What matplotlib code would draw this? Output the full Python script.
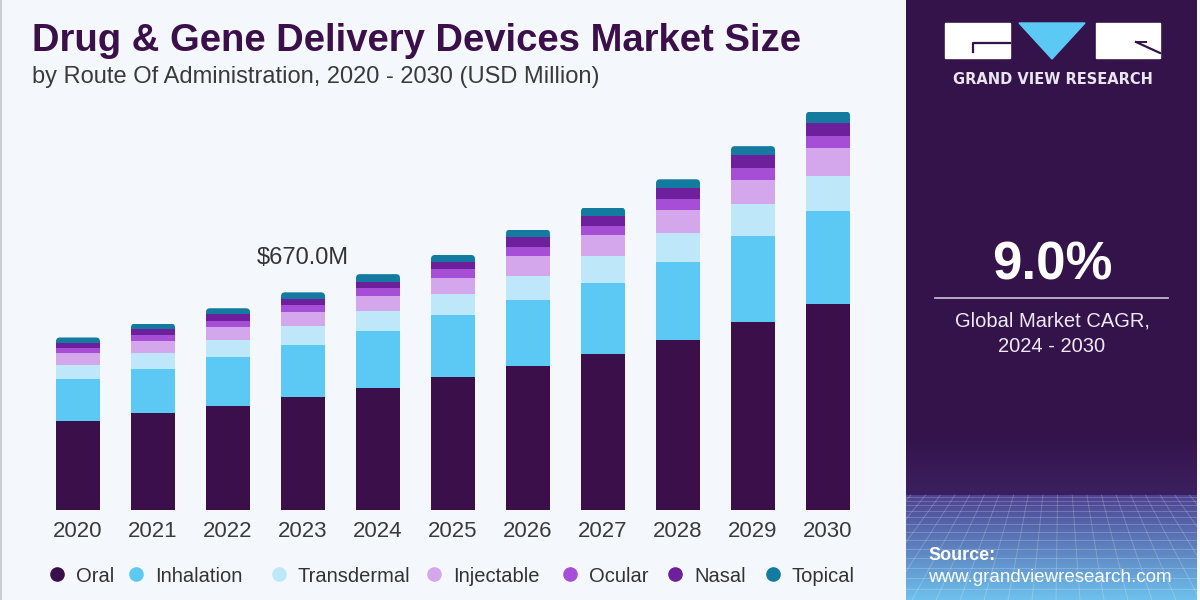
import numpy as np
import matplotlib
matplotlib.use("Agg")
import matplotlib.pyplot as plt
from matplotlib.patches import Rectangle, Polygon, FancyBboxPatch
from matplotlib.lines import Line2D
import matplotlib.colors as mcolors

plt.rcParams['font.family'] = ['Liberation Sans', 'DejaVu Sans']

# ---------------- data (USD Million) ----------------
years = ["2020", "2021", "2022", "2023", "2024", "2025", "2026", "2027", "2028", "2029", "2030"]
oral        = [275, 298, 321, 348, 377, 410, 443, 479, 523, 578, 633]
inhalation  = [128, 137, 149, 160, 175, 190, 203, 220, 240, 264, 288]
transdermal = [43, 49, 53, 58, 59, 65, 75, 82, 90, 100, 107]
injectable  = [36, 37, 41, 44, 49, 50, 61, 65, 70, 75, 85]
ocular      = [18, 18, 19, 21, 23, 27, 29, 28, 34, 36, 39]
nasal       = [14, 18, 20, 18, 18, 22, 28, 32, 33, 39, 40]
topical     = [17, 17, 18, 21, 25, 21, 24, 25, 28, 28, 34]
series_names = ["Oral", "Inhalation", "Transdermal", "Injectable", "Ocular", "Nasal", "Topical"]
series = [oral, inhalation, transdermal, injectable, ocular, nasal, topical]
label_year = "2023"
label_value = 670.0
cagr_text = "9.0%"
cagr_caption = ["Global Market CAGR,", "2024 - 2030"]

colors = ["#3A0F4A", "#5CC9F5", "#BEE8FA", "#D4A7EC", "#A64FD6", "#6E1F9B", "#137AA0"]

W, H = 1200, 600
def fx(px):
    return px / W
def fy(py):
    return 1 - py / H

fig = plt.figure(figsize=(12, 6), dpi=100, facecolor="#F4F8FC")

# ---------------- main chart ----------------
ax = fig.add_axes([40.5 / W, 1 - 510 / H, 825 / W, 410 / H])
ax.set_facecolor("none")
x = np.arange(len(years))
bw = 0.587
bottom = np.zeros(len(years))
containers = []
for vals, col in zip(series, colors):
    bc = ax.bar(x, vals, width=bw, bottom=bottom, color=col, linewidth=0)
    containers.append(bc)
    bottom = bottom + np.asarray(vals, dtype=float)
totals = bottom

ax.set_xlim(-0.5, len(years) - 0.5)
ax.set_ylim(0, 1262)

# rounded top corners on the top segment
px_per_x = 825 / 11.0
y_per_px = 1262 / 410.0
r_x = 4.0 / px_per_x
aspect = (4.0 * y_per_px) / r_x
for i, p in enumerate(containers[-1].patches):
    clip = FancyBboxPatch((x[i] - bw / 2, 0), bw, totals[i],
                          boxstyle=f"round,pad=0,rounding_size={r_x}",
                          mutation_aspect=aspect, transform=ax.transData)
    p.set_clip_path(clip)

for s in ax.spines.values():
    s.set_visible(False)
ax.set_yticks([])
ax.set_xticks(x, years)
ax.tick_params(axis="x", length=0, pad=8, labelsize=16, labelcolor="#3a3a3a")

li = years.index(label_year)
ax.annotate(r"\$" + f"{label_value:.1f}M", xy=(x[li], totals[li]), xytext=(0, 25),
            textcoords="offset points", ha="center", va="center",
            fontsize=17, color="#333333")

# ---------------- titles ----------------
fig.text(fx(32), fy(51), "Drug & Gene Delivery Devices Market Size",
         fontsize=27.5, fontweight="bold", color="#3A0F4A", va="baseline", ha="left")
fig.text(fx(32), fy(83), "by Route Of Administration, 2020 - 2030 (USD Million)",
         fontsize=17, color="#3a3a3a", va="baseline", ha="left")

# ---------------- legend ----------------
marker_x = [57, 136, 279, 434, 570, 675, 773]
for mx, name, col in zip(marker_x, series_names, colors):
    fig.add_artist(Line2D([fx(mx)], [fy(574)], marker="o", ms=9.5, color=col,
                          linestyle="none", transform=fig.transFigure))
    fig.text(fx(mx + 19), fy(574), name, fontsize=14.5, color="#333333",
             va="center_baseline", ha="left")

# left border
fig.add_artist(Line2D([0.0012, 0.0012], [0, 1], color="#C9CED4", lw=1.5,
                      transform=fig.transFigure))

# ---------------- right panel ----------------
axr = fig.add_axes([906 / W, 0, 291 / W, 1])
axr.set_xlim(906, 1197)
axr.set_ylim(600, 0)
axr.axis("off")

c_top = np.array(mcolors.to_rgb("#34124A"))
c_mid = np.array(mcolors.to_rgb("#3B2060"))
c_hz = np.array(mcolors.to_rgb("#4D4290"))
c_bot = np.array(mcolors.to_rgb("#6EC2EE"))
grad = np.zeros((600, 1, 3))
for r in range(600):
    if r < 430:
        c = c_top
    elif r < 495:
        t = (r - 430) / 65
        c = c_top + (c_mid - c_top) * t
    else:
        t = (r - 495) / 105
        c = c_hz + (c_bot - c_hz) * t
    grad[r, 0, :] = c
axr.imshow(grad, extent=(906, 1197, 600, 0), aspect="auto", origin="upper", zorder=0)

# perspective grid texture
hz = 495
for k in range(1, 15):
    yy = hz + 105 * (k / 14) ** 1.5
    axr.plot([906, 1197], [yy, yy], color="white", alpha=0.2, lw=0.7, zorder=1)
vpx, vpy = 1060, 330
for xb in np.arange(600, 1500, 24):
    x495 = vpx + (xb - vpx) * (hz - vpy) / (600 - vpy)
    axr.plot([x495, xb], [hz, 600], color="white", alpha=0.2, lw=0.7, zorder=1)

# logo
axr.add_patch(Rectangle((945, 23), 65, 35, color="white", zorder=3))
axr.add_patch(Rectangle((1096, 23), 64, 35, color="white", zorder=3))
axr.add_patch(Polygon([(1019, 23), (1085, 23), (1052, 59)], closed=True,
                      color="#5CC9F5", zorder=3))
axr.plot([973, 973, 1010], [52, 43, 43], color="#34124A", lw=1.6, zorder=4)
axr.plot([1136, 1160], [42, 53], color="#34124A", lw=1.6, zorder=4)
axr.plot([1136, 1146], [42, 42], color="#34124A", lw=1.4, zorder=4)
axr.text(1053, 79, "GRAND VIEW RESEARCH", color="#EAE6F0", fontsize=10.5,
         fontweight="bold", family=["DejaVu Sans"], ha="center", va="center", zorder=4)

# CAGR
axr.text(1052, 266, cagr_text, color="white", fontsize=38, fontweight="bold",
         ha="center", va="center", zorder=4)
axr.plot([935, 1168], [298, 298], color="#BDB5CC", lw=1.3, zorder=4)
axr.text(1052, 321, cagr_caption[0], color="#EEEAF3", fontsize=14.5,
         ha="center", va="center", zorder=4)
axr.text(1052, 346, cagr_caption[1], color="#EEEAF3", fontsize=14.5,
         ha="center", va="center", zorder=4)

# source
axr.text(928, 555, "Source:", color="white", fontsize=13, fontweight="bold",
         ha="left", va="center", zorder=4)
axr.text(928, 577, "www.grandviewresearch.com", color="white", fontsize=13.5,
         ha="left", va="center", zorder=4)

fig.savefig("out.png", dpi=100, facecolor=fig.get_facecolor())
